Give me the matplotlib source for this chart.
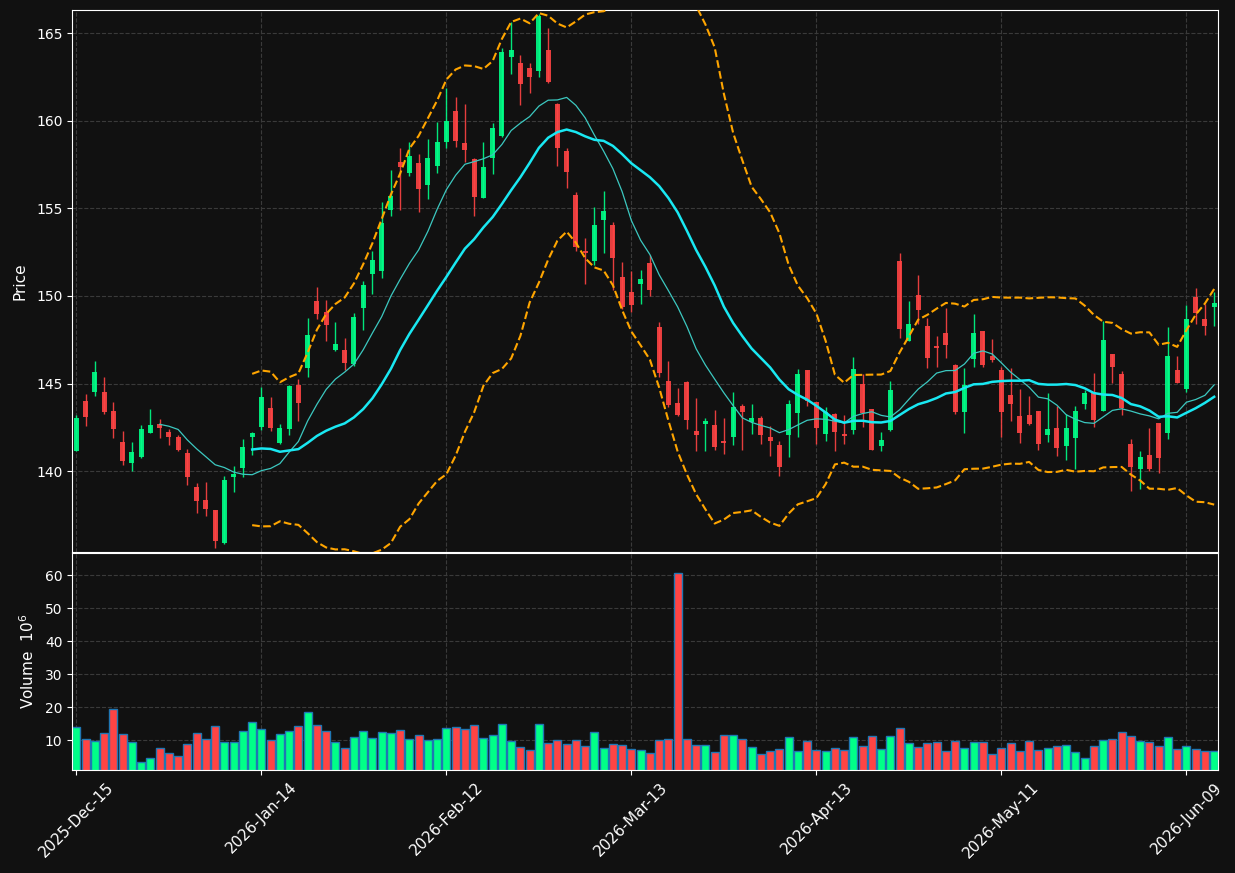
import numpy as np
import pandas as pd
import matplotlib
matplotlib.use("Agg")
import matplotlib.pyplot as plt

# daily OHLC (124 trading days)
opens = [141.17, 144.01, 144.54, 144.52, 143.43, 141.67, 140.44, 140.83, 142.20, 142.70,
         142.24, 141.95, 141.03, 139.11, 138.35, 137.78, 135.87, 139.64, 140.20, 141.93,
         142.54, 143.61, 141.63, 142.38, 144.92, 145.89, 149.72, 149.07, 146.93, 146.93,
         146.13, 149.29, 151.25, 151.45, 154.92, 157.66, 157.04, 157.60, 156.31, 157.44,
         158.79, 160.56, 158.73, 157.80, 155.62, 157.90, 159.11, 163.67, 163.31, 163.02,
         162.82, 164.05, 160.97, 158.27, 155.77, 152.54, 151.98, 154.31, 154.05, 151.09,
         150.24, 150.71, 151.89, 148.24, 145.16, 143.89, 145.10, 142.30, 142.68, 142.64,
         141.67, 141.97, 143.73, 142.80, 143.02, 141.95, 141.47, 142.04, 143.31, 145.78,
         143.95, 142.14, 143.27, 142.12, 142.32, 144.98, 143.55, 141.43, 142.32, 152.00,
         147.42, 150.06, 148.29, 147.12, 147.90, 146.07, 143.35, 146.39, 148.00, 146.59,
         145.78, 144.35, 143.14, 143.20, 143.43, 142.08, 142.46, 141.41, 141.87, 143.85,
         144.50, 143.45, 146.69, 145.56, 141.55, 140.10, 140.93, 142.72, 142.20, 145.78,
         144.66, 149.94, 148.69, 149.35]
highs = [143.21, 144.39, 146.29, 145.38, 143.93, 142.28, 141.67, 142.64, 143.55, 142.96,
         142.40, 142.05, 141.25, 139.31, 139.37, 137.80, 139.70, 140.28, 141.83, 142.24,
         144.80, 144.25, 142.66, 144.90, 145.24, 148.75, 150.52, 149.76, 148.51, 147.60,
         149.01, 150.83, 152.56, 155.36, 157.18, 158.43, 158.77, 158.12, 158.95, 159.92,
         161.90, 161.37, 160.97, 157.85, 158.79, 159.88, 164.15, 165.63, 163.75, 163.31,
         166.10, 165.30, 161.02, 158.45, 155.93, 153.29, 155.06, 155.99, 154.25, 151.93,
         151.41, 151.49, 152.34, 148.51, 146.29, 144.74, 145.12, 144.19, 143.02, 143.49,
         143.02, 144.50, 143.85, 143.85, 143.16, 142.56, 141.73, 144.07, 145.83, 145.80,
         143.97, 143.65, 143.31, 143.22, 146.53, 145.54, 143.57, 142.22, 145.14, 152.44,
         149.70, 151.21, 148.75, 147.72, 149.33, 146.09, 145.89, 148.95, 148.02, 147.54,
         145.93, 145.89, 144.68, 144.29, 143.45, 144.45, 143.71, 143.25, 143.71, 144.64,
         145.60, 148.57, 146.71, 145.70, 141.81, 141.13, 142.46, 142.74, 148.24, 146.59,
         149.49, 150.46, 149.54, 150.22]
lows = [141.13, 142.56, 144.31, 143.25, 141.87, 140.34, 140.00, 140.74, 142.18, 141.87,
        141.49, 141.13, 139.21, 137.62, 137.46, 135.62, 135.83, 138.79, 139.66, 140.91,
        142.32, 142.28, 141.57, 142.06, 142.86, 145.36, 148.67, 147.42, 146.83, 145.79,
        145.99, 148.06, 150.10, 151.05, 154.58, 154.92, 156.85, 154.82, 155.52, 157.00,
        158.43, 158.49, 157.66, 154.58, 155.58, 156.94, 159.08, 162.70, 160.89, 161.61,
        162.50, 162.18, 157.40, 156.15, 152.58, 150.71, 151.75, 152.44, 150.34, 149.27,
        149.07, 149.52, 150.02, 145.36, 143.67, 143.15, 142.38, 141.13, 141.13, 141.21,
        140.97, 141.49, 141.21, 142.10, 141.53, 140.87, 139.74, 140.81, 141.97, 143.69,
        141.53, 141.69, 141.17, 141.57, 142.12, 142.50, 141.21, 141.13, 142.30, 147.60,
        147.40, 148.41, 145.89, 145.93, 146.47, 143.25, 142.16, 145.93, 145.97, 146.23,
        141.97, 142.86, 141.63, 142.62, 141.19, 141.67, 140.87, 140.62, 140.12, 143.55,
        142.52, 143.43, 145.04, 143.18, 138.85, 139.00, 140.02, 139.88, 141.83, 145.02,
        144.50, 148.39, 147.76, 148.27]
closes = [143.04, 143.06, 145.68, 143.37, 142.38, 140.60, 141.09, 142.42, 142.64, 142.44,
          141.93, 141.21, 139.68, 138.31, 137.86, 136.03, 139.50, 139.84, 141.39, 142.18,
          144.25, 142.48, 142.46, 144.86, 143.91, 147.78, 148.97, 148.35, 147.26, 146.19,
          148.81, 150.64, 152.06, 154.17, 155.71, 157.36, 158.00, 156.11, 157.88, 158.79,
          160.00, 158.85, 158.33, 155.66, 157.36, 159.60, 163.93, 164.05, 162.12, 162.52,
          165.99, 162.22, 158.47, 157.10, 152.82, 152.48, 154.05, 154.86, 152.14, 149.37,
          149.51, 150.97, 150.32, 145.58, 143.75, 143.18, 142.90, 142.08, 142.88, 141.35,
          141.63, 143.67, 143.35, 143.02, 142.04, 141.69, 140.22, 143.83, 145.56, 143.99,
          142.48, 143.37, 142.26, 142.02, 145.83, 143.31, 141.23, 141.77, 144.64, 148.14,
          148.41, 149.17, 146.43, 147.04, 147.22, 143.37, 144.92, 147.90, 146.03, 146.37,
          143.35, 143.85, 142.20, 142.66, 141.57, 142.42, 141.29, 142.46, 143.43, 144.47,
          142.92, 147.50, 145.93, 143.59, 140.26, 140.81, 140.14, 140.77, 146.59, 145.04,
          148.69, 149.05, 148.31, 149.60]
# volume in millions
volumes = [13.94, 10.3, 9.7, 12.1, 19.4, 11.8, 9.4, 3.33, 4.55, 7.58,
           6.06, 5.15, 8.79, 12.1, 10.3, 14.24, 9.4, 9.4, 12.73, 15.45,
           13.33, 10.0, 11.8, 12.73, 14.24, 18.5, 14.55, 12.73, 9.4, 7.58,
           10.9, 12.73, 10.6, 12.4, 12.1, 13.0, 10.3, 11.5, 10.0, 10.3,
           13.6, 13.94, 13.33, 14.55, 10.6, 11.5, 14.85, 9.7, 7.88, 6.97,
           14.85, 9.1, 10.0, 8.79, 10.0, 8.18, 12.42, 7.58, 8.79, 8.48,
           7.27, 6.97, 6.06, 10.0, 10.3, 60.6, 10.3, 8.48, 8.48, 6.36,
           11.5, 11.5, 10.3, 7.88, 5.76, 6.67, 7.27, 10.9, 6.67, 9.7,
           6.97, 6.67, 7.58, 6.97, 10.9, 8.18, 11.2, 7.27, 11.2, 13.64,
           9.1, 7.88, 9.1, 9.4, 6.67, 9.7, 7.58, 9.4, 9.4, 5.76,
           7.58, 9.1, 6.67, 9.7, 6.97, 7.58, 8.18, 8.48, 6.36, 4.55,
           8.18, 10.0, 10.3, 12.42, 11.2, 9.7, 9.4, 8.18, 10.9, 7.27,
           8.18, 7.27, 6.67, 6.67]
tick_pos = [0, 20, 40, 60, 80, 100, 120]
tick_labels = ['2025-Dec-15', '2026-Jan-14', '2026-Feb-12', '2026-Mar-13',
               '2026-Apr-13', '2026-May-11', '2026-Jun-09']

bg = '#111111'
up = '#00ff88'
down = '#ff4444'

df = pd.DataFrame({'o': opens, 'h': highs, 'l': lows, 'c': closes, 'v': volumes})
x = np.arange(len(df))
ma10 = df['c'].rolling(10).mean()
ma20 = df['c'].rolling(20).mean()
sd20 = df['c'].rolling(20).std(ddof=0)
bb_up = ma20 + 2 * sd20
bb_lo = ma20 - 2 * sd20

colors = [up if c >= o else down for o, c in zip(df['o'], df['c'])]

fig = plt.figure(figsize=(12.35, 8.73), dpi=100, facecolor=bg)
ax = fig.add_axes([0.0585, 0.3677, 0.928, 0.6205])
axv = fig.add_axes([0.0585, 0.118, 0.928, 0.2486], sharex=ax)

for a in (ax, axv):
    a.set_facecolor(bg)
    for s in a.spines.values():
        s.set_color('white')
    a.tick_params(colors='white', labelsize=10)
    a.grid(True, color='#3a3a3a', linestyle='--', linewidth=0.8)
    a.set_axisbelow(True)

# candles
ax.vlines(x, df['l'], df['h'], colors=colors, linewidth=1, alpha=0.9, zorder=2)
body_h = np.maximum((df['c'] - df['o']).abs(), 0.06)
ax.bar(x, body_h, bottom=np.minimum(df['o'], df['c']), width=0.55,
       color=colors, alpha=0.9, zorder=3)

ax.plot(x, ma10, color='#3cc8c0', linewidth=0.9, zorder=4)
ax.plot(x, ma20, color='#19e8f2', linewidth=1.8, zorder=4)
ax.plot(x, bb_up, color='orange', linestyle='--', linewidth=1.5, zorder=4)
ax.plot(x, bb_lo, color='orange', linestyle='--', linewidth=1.5, zorder=4)

ax.set_ylim(135.38, 166.31)
ax.set_yticks([140, 145, 150, 155, 160, 165])
ax.set_ylabel('Price', color='white', fontsize=11, labelpad=6)
plt.setp(ax.get_xticklabels(), visible=False)

axv.bar(x, df['v'], width=0.85, color=colors, edgecolor='#1f77b4', linewidth=1)
axv.set_ylim(1.0, 66.7)
axv.set_yticks([10, 20, 30, 40, 50, 60])
axv.set_ylabel('Volume  $10^{6}$', color='white', fontsize=11, labelpad=6)

axv.set_xlim(-0.45, 123.45)
axv.set_xticks(tick_pos)
axv.set_xticklabels(tick_labels, rotation=45, fontsize=11)

fig.savefig('out.png', dpi=100, facecolor=bg)
